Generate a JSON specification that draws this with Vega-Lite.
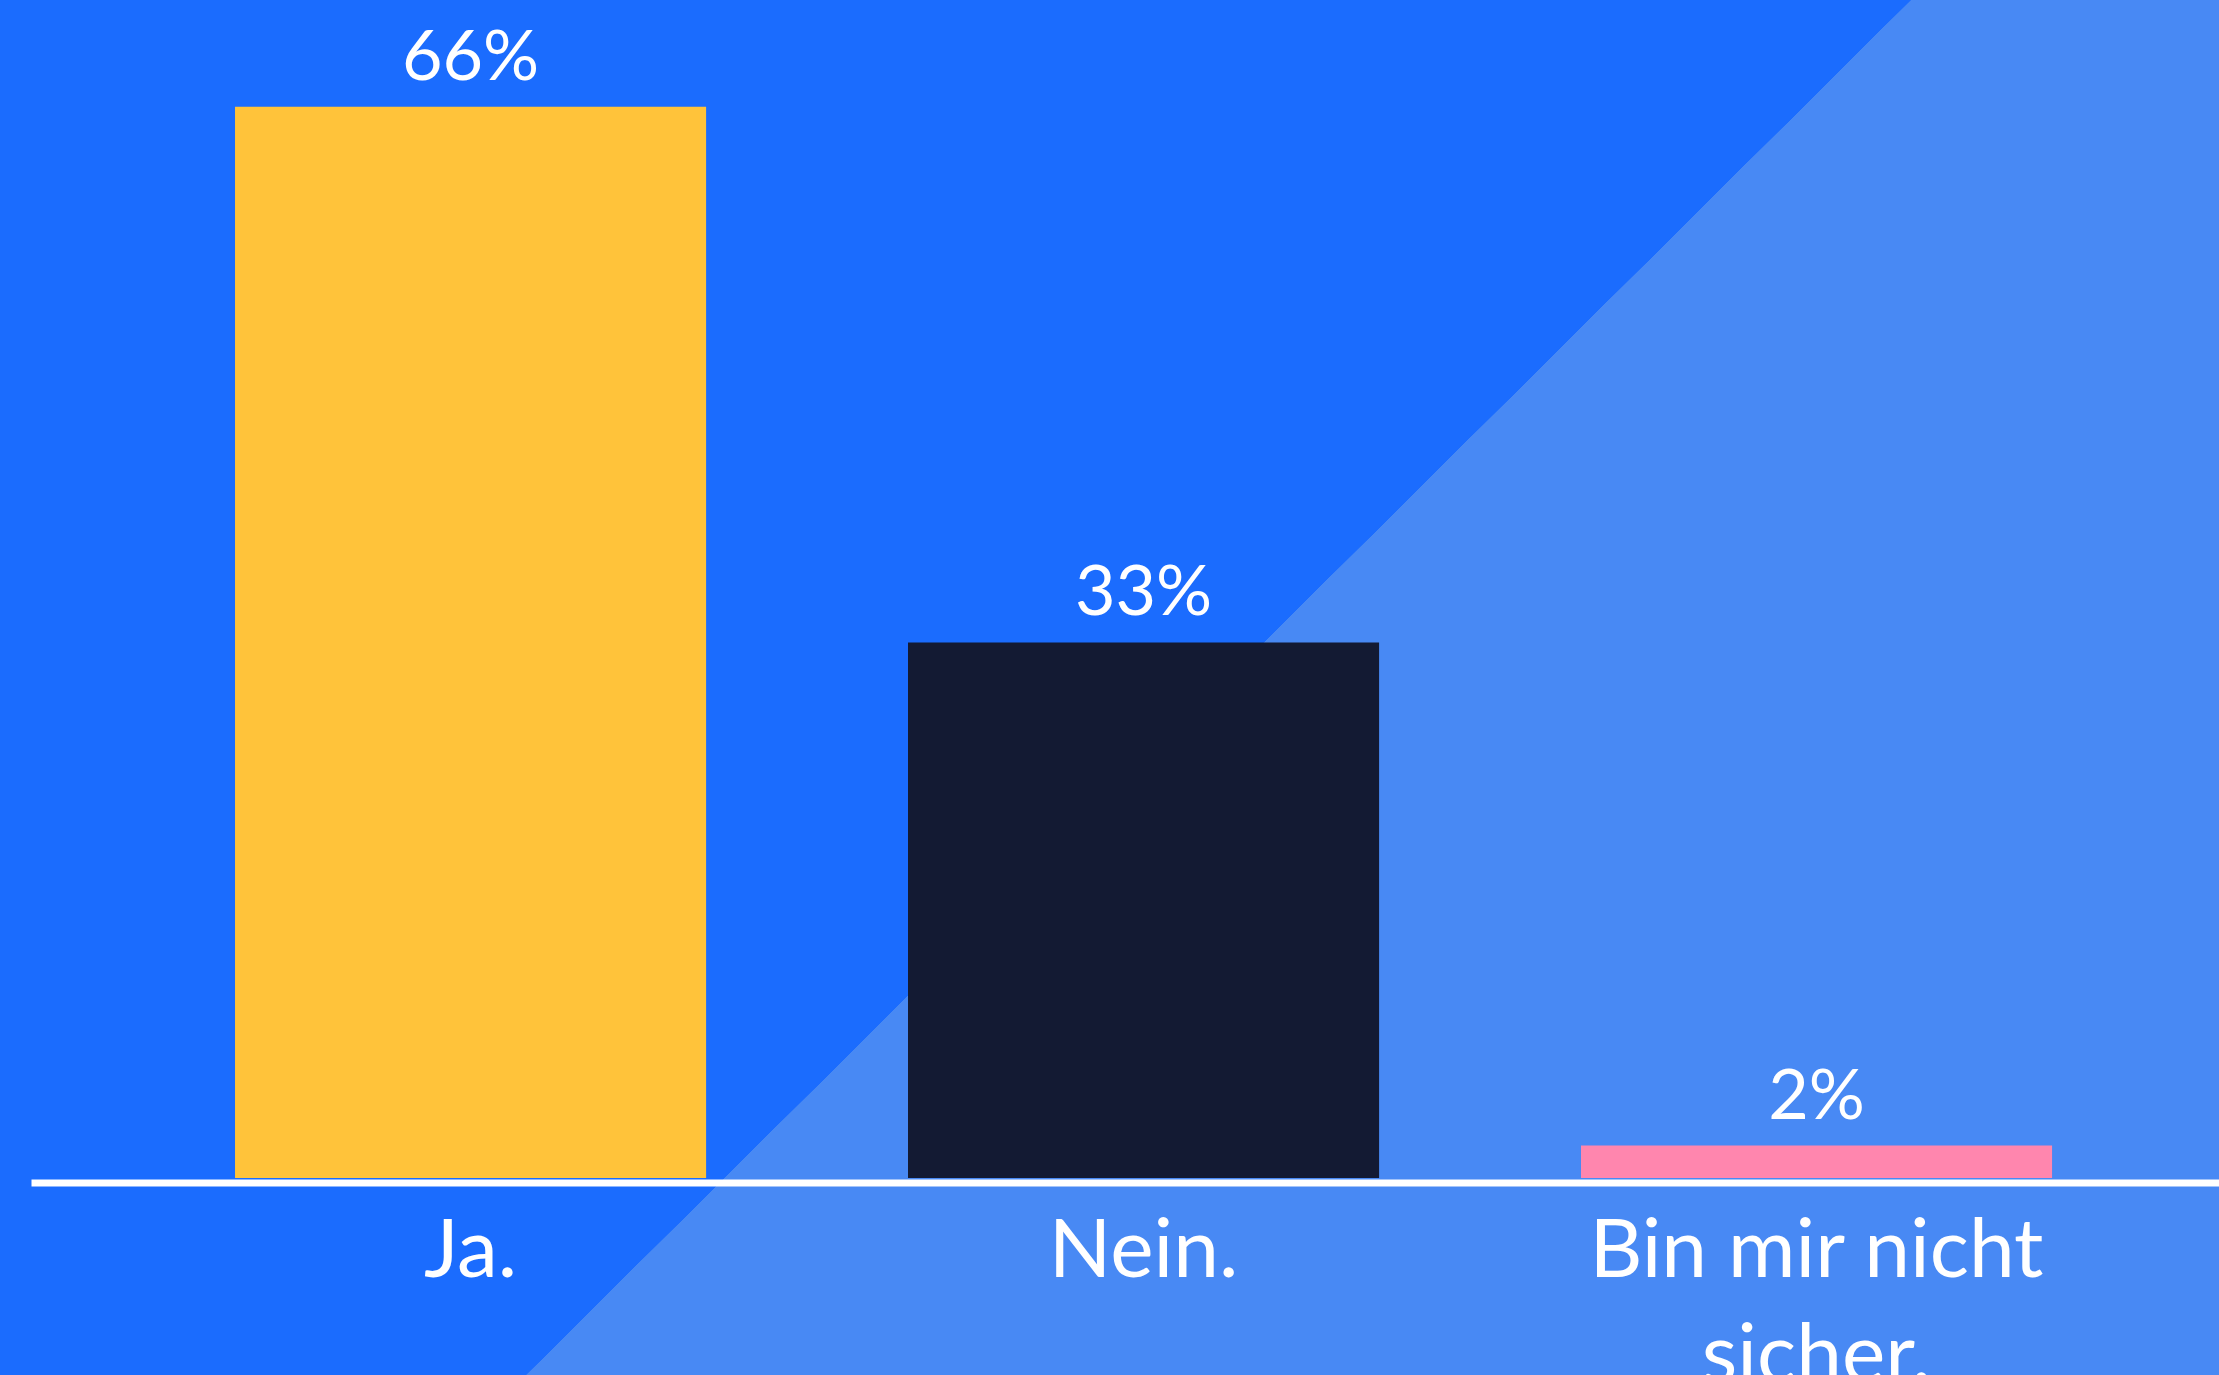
{
  "$schema": "https://vega.github.io/schema/vega-lite/v6.json",
  "width": 2188,
  "height": 1375,
  "padding": {"left": 31, "top": 0, "right": 0, "bottom": 0},
  "autosize": {"type": "none"},
  "background": "#1b6cfe",
  "view": {
    "stroke": null,
    "fill": {
      "gradient": "linear",
      "x1": 0, "y1": 0, "x2": 1, "y2": 0.633,
      "stops": [
        {"offset": 0, "color": "#1b6cfe"},
        {"offset": 0.6134, "color": "#1b6cfe"},
        {"offset": 0.6135, "color": "#4889f4"},
        {"offset": 1, "color": "#4889f4"}
      ]
    }
  },
  "data": {
    "values": [
      {"answer": "Ja.", "pct": 66, "label": "66%"},
      {"answer": "Nein.", "pct": 33, "label": "33%"},
      {"answer": "Bin mir nicht sicher.", "pct": 2, "label": "2%"}
    ]
  },
  "encoding": {
    "x": {
      "field": "answer",
      "type": "nominal",
      "sort": null,
      "scale": {"paddingInner": 0.3, "paddingOuter": 0.2756, "align": 0.55},
      "axis": {
        "title": null,
        "orient": "bottom",
        "offset": -192.5,
        "domain": true,
        "domainColor": "#ffffff",
        "domainWidth": 7,
        "ticks": false,
        "tickSize": 0,
        "grid": false,
        "labelAngle": 0,
        "labelColor": "#ffffff",
        "labelFont": "Lato",
        "labelFontWeight": 400,
        "labelFontSize": 82,
        "labelPadding": 29,
        "labelLineHeight": 105,
        "labelLimit": 2000,
        "labelOverlap": false,
        "labelBound": false,
        "labelFlush": false,
        "labelExpr": "datum.value == 'Bin mir nicht sicher.' ? ['Bin mir nicht', 'sicher.'] : datum.label"
      }
    },
    "y": {
      "field": "pct",
      "type": "quantitative",
      "scale": {"domain": [-12.14, 72.58], "nice": false, "zero": false},
      "axis": null
    }
  },
  "layer": [
    {
      "mark": {"type": "bar"},
      "encoding": {
        "color": {
          "field": "answer",
          "type": "nominal",
          "scale": {
            "domain": ["Ja.", "Nein.", "Bin mir nicht sicher."],
            "range": ["#ffc33a", "#131a33", "#ff86ae"]
          },
          "legend": null
        }
      }
    },
    {
      "mark": {
        "type": "text",
        "baseline": "alphabetic",
        "dy": -27,
        "font": "Lato",
        "fontWeight": 400,
        "fontSize": 70,
        "color": "#ffffff"
      },
      "encoding": {"text": {"field": "label"}}
    }
  ]
}
